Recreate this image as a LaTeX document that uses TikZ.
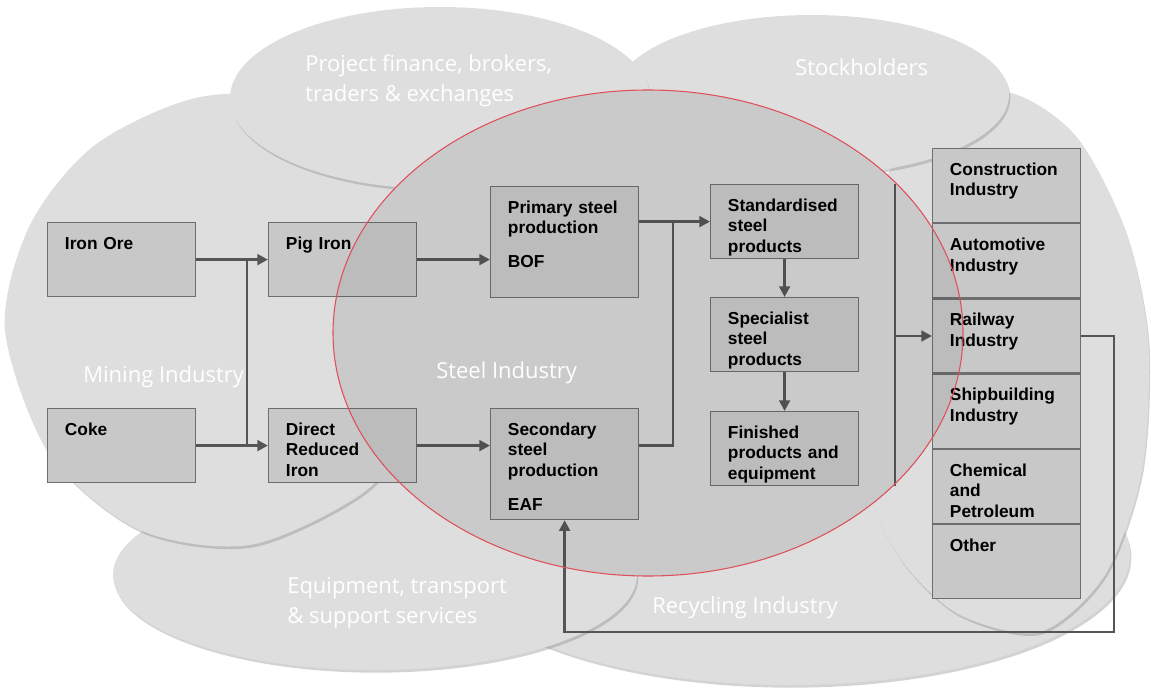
\documentclass[tikz,border=0pt]{standalone}
\usepackage{fontspec}
\setmainfont{Liberation Sans}
\newfontfamily\labelfont{Open Sans}
\usetikzlibrary{arrows.meta,shadows}

\definecolor{cloudgray}{RGB}{222,222,222}
\definecolor{steelgray}{RGB}{215,215,215}
\definecolor{boxfill}{RGB}{200,200,200}
\definecolor{boxline}{RGB}{110,110,110}
\definecolor{flowgray}{RGB}{85,85,85}
\definecolor{rim}{RGB}{222,80,90}

\tikzset{
	blob/.style={fill=cloudgray, drop shadow={shadow xshift=1pt, shadow yshift=-2pt, opacity=0.35}},
	tag/.style={anchor=base west, text=white, inner sep=0pt, align=left, font=\labelfont\fontsize{16.5}{22.5}\selectfont},
	box/.style={draw=boxline, fill=boxfill, line width=0.9pt, anchor=north west, align=left, text width=85pt, inner xsep=13pt, inner ysep=3pt, text height=17pt, text depth=32.5pt, font=\fontsize{13}{15.4}\selectfont\bfseries},
	tallbox/.style={box, text depth=60.25pt},
	flow/.style={draw=flowgray, line width=2.2pt, -{Triangle[length=8pt,width=8pt]}},
	link/.style={draw=flowgray, line width=2.2pt}
}

\begin{document}
\begin{tikzpicture}[x=0.75pt,y=-0.75pt]
	\useasboundingbox (0,0) rectangle (1151,688);
	\fill[blob] (790,555) ellipse [x radius=340, y radius=130];
	\fill[blob] plot[smooth cycle] coordinates {(1005,92) (1075,135) (1125,230) (1148,340) (1142,470) (1105,575) (1040,632) (960,615) (905,565) (872,500) (860,400) (862,290) (880,190) (930,122)};
	\fill[blob] (375,575) ellipse [x radius=262, y radius=95];
	\fill[blob] plot[smooth cycle] coordinates {(5,330) (30,225) (95,145) (200,97) (320,100) (420,150) (475,250) (478,350) (425,425) (360,495) (250,545) (140,530) (50,455)};
	\fill[blob] (812,95) ellipse [x radius=197, y radius=80];
	\fill[blob] (440,98) ellipse [x radius=210, y radius=91];
	\fill[steelgray] (648,333) ellipse [x radius=315, y radius=243];

	\node[box] (ore) at (47,222) {Iron Ore};
	\node[box] (coke) at (47,408) {Coke};
	\node[box] (pig) at (268,222) {Pig Iron};
	\node[box] (dri) at (268,408) {Direct\\Reduced\\Iron};
	\node[tallbox] (bof) at (490,186) {Primary steel\\production\\[10pt]BOF};
	\node[tallbox] (eaf) at (490,408) {Secondary\\steel\\production\\[10pt]EAF};
	\node[box] (std) at (710,184) {Standardised\\steel\\products};
	\node[box] (spec) at (710,297) {Specialist\\steel\\products};
	\node[box] (fin) at (710,411) {Finished\\products and\\equipment};
	\node[box] (con) at (932,148) {Construction\\Industry};
	\node[box] (auto) at (con.south west) {Automotive\\Industry};
	\node[box] (rail) at (auto.south west) {Railway\\Industry};
	\node[box] (ship) at (rail.south west) {Shipbuilding\\Industry};
	\node[box] (chem) at (ship.south west) {Chemical\\and\\Petroleum};
	\node[box] (other) at (chem.south west) {Other};

	\coordinate (feed) at (247,0);
	\coordinate (merge) at (673,0);
	\coordinate (bar) at (895,0);
	\coordinate (loop) at (1114,632);
	\draw[flow] (ore.east) -- (pig.west);
	\draw[flow] (coke.east) -- (dri.west);
	\draw[link] (feed |- ore.east) -- (feed |- coke.east);
	\draw[flow] (pig.east) -- (pig.east -| bof.west);
	\draw[flow] (dri.east) -- (dri.east -| eaf.west);
	\draw[flow] (bof.east |- std.west) -- (std.west);
	\draw[link] (eaf.north east |- dri.east) -| (merge |- std.west);
	\draw[flow] (std.south) -- (spec.north);
	\draw[flow] (spec.south) -- (fin.north);
	\draw[link] (bar |- std.north) -- (bar |- fin.south);
	\draw[flow] (bar |- rail.west) -- (rail.west);
	\draw[flow] (rail.east) -| (loop) -| (eaf.south);

	\filldraw[draw=rim, line width=0.8pt, fill=black, fill opacity=0.06] (648,333) ellipse [x radius=315, y radius=243];

	\node[tag] (fintag) at (305,102) {Project finance, brokers,\\traders \& exchanges};
	\node[tag] (stocktag) at (795,76) {Stockholders};
	\node[tag] (minetag) at (83,382) {Mining Industry};
	\node[tag] (steeltag) at (436,378) {Steel Industry};
	\node[tag] (equiptag) at (287,623) {Equipment, transport\\\& support services};
	\node[tag] (recytag) at (652,613) {Recycling Industry};
\end{tikzpicture}
\end{document}
